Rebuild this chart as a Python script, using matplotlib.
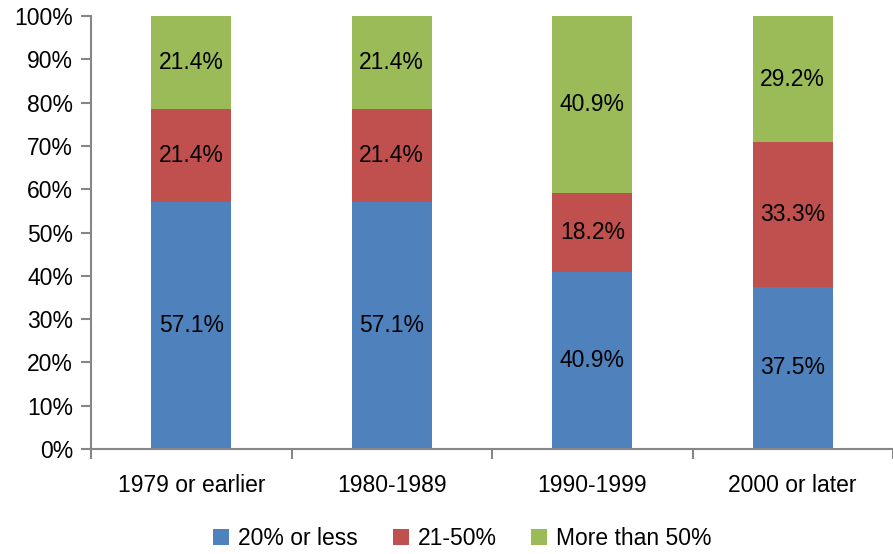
import matplotlib
matplotlib.use('Agg')
import matplotlib.pyplot as plt
import numpy as np

categories = ['1979 or earlier', '1980-1989', '1990-1999', '2000 or later']
low = [57.1, 57.1, 40.9, 37.5]        # 20% or less
mid = [21.4, 21.4, 18.2, 33.3]        # 21-50%
high = [21.4, 21.4, 40.9, 29.2]       # More than 50%
series_names = ['20% or less', '21-50%', 'More than 50%']
colors = ['#4F81BD', '#C0504D', '#9BBB59']

plt.rcParams['font.family'] = ['Liberation Sans', 'DejaVu Sans']
fs = 16.5

fig = plt.figure(figsize=(8.93, 5.54), dpi=100)
ax = fig.add_axes([91/893, 105/554, 802/893, 433/554])

x = np.arange(len(categories))
bottom = np.zeros(len(categories))
for vals, name, c in zip([low, mid, high], series_names, colors):
    vals = np.array(vals)
    ax.bar(x, vals, width=0.4, bottom=bottom, color=c, label=name)
    for xi, b, v in zip(x, bottom, vals):
        ax.text(xi, b + v / 2, '%.1f%%' % v, ha='center', va='center', fontsize=fs)
    bottom = bottom + vals

ax.set_xlim(-0.5, 3.476)
ax.set_ylim(0, 100)
ax.set_yticks(np.arange(0, 101, 10))
ax.set_yticklabels(['%d%%' % v for v in range(0, 101, 10)], fontsize=fs)
ax.set_xticks(x)
ax.set_xticklabels(categories, fontsize=fs)
ax.tick_params(axis='x', length=0, pad=18)
ax.set_xticks([-0.5, 0.5, 1.5, 2.5, 3.5], minor=True)
ax.tick_params(axis='x', which='minor', length=7, width=1.5, color='#868686')
ax.tick_params(axis='y', length=7, width=1.5, color='#868686', pad=6)

for s in ['top', 'right']:
    ax.spines[s].set_visible(False)
for s in ['left', 'bottom']:
    ax.spines[s].set_color('#868686')
    ax.spines[s].set_linewidth(1.5)

fig.legend(loc='lower center', bbox_to_anchor=(0.518, -0.03), ncol=3, frameon=False,
           fontsize=fs, handlelength=0.7, handleheight=0.7, handletextpad=0.4,
           columnspacing=1.5)

fig.savefig('out.png', dpi=100)
